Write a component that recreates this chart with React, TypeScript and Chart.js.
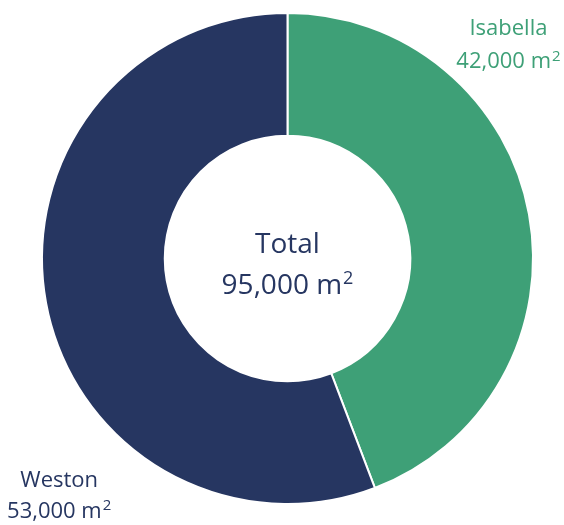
import React, { useEffect, useRef } from "react";
import { Chart, registerables } from "chart.js";

Chart.register(...registerables);

const categories = ["Isabella", "Weston"];
const values = [42000, 53000];
const colors = ["#3EA077", "#263661"];
const totalLabel = "Total";
const unit = "m";

const fmt = (v: number) => v.toLocaleString("en-US");

function drawWithSup(ctx: CanvasRenderingContext2D, text: string, cx: number, baseline: number, size: number, color: string) {
  const font = `${size}px "Open Sans"`;
  const supSize = Math.round(size * 0.66);
  const supFont = `${supSize}px "Open Sans"`;
  ctx.font = font;
  const w1 = ctx.measureText(text).width;
  ctx.font = supFont;
  const w2 = ctx.measureText("2").width;
  const x0 = cx - (w1 + w2 + 1) / 2;
  ctx.fillStyle = color;
  ctx.textAlign = "left";
  ctx.textBaseline = "alphabetic";
  ctx.font = font;
  ctx.fillText(text, x0, baseline);
  ctx.font = supFont;
  ctx.fillText("2", x0 + w1 + 1, baseline - size * 0.33);
}

const labelPlugin = {
  id: "donutLabels",
  afterDraw(chart: any) {
    const ctx = chart.ctx as CanvasRenderingContext2D;
    const meta = chart.getDatasetMeta(0);
    const arc = meta.data[0];
    const cx = arc.x;
    const cy = arc.y;
    const R = arc.outerRadius;
    ctx.save();
    // center
    ctx.fillStyle = colors[1];
    ctx.font = '28px "Open Sans"';
    ctx.textAlign = "center";
    ctx.textBaseline = "alphabetic";
    ctx.fillText(totalLabel, cx, cy - 6);
    const total = values.reduce((a, b) => a + b, 0);
    drawWithSup(ctx, `${fmt(total)} ${unit}`, cx, cy + 35, 28, colors[1]);
    // Isabella (top right)
    ctx.fillStyle = colors[0];
    ctx.font = '22px "Open Sans"';
    ctx.textAlign = "center";
    ctx.fillText(categories[0], cx + R * 0.9, cy - R * 0.91);
    drawWithSup(ctx, `${fmt(values[0])} ${unit}`, cx + R * 0.9, cy - R * 0.775, 22, colors[0]);
    // Weston (bottom left)
    ctx.fillStyle = colors[1];
    ctx.font = '22px "Open Sans"';
    ctx.textAlign = "center";
    ctx.fillText(categories[1], cx - R * 0.93, cy + R * 0.93);
    drawWithSup(ctx, `${fmt(values[1])} ${unit}`, cx - R * 0.93, cy + R * 1.056, 22, colors[1]);
    ctx.restore();
  },
};

export default function App() {
  const ref = useRef<HTMLCanvasElement>(null);
  useEffect(() => {
    document.body.style.margin = "0";
    const chart = new Chart(ref.current!, {
      type: "doughnut",
      data: {
        labels: categories,
        datasets: [
          {
            data: values,
            backgroundColor: colors,
            borderColor: "#ffffff",
            borderWidth: 2,
          },
        ],
      },
      options: {
        animation: false,
        responsive: false,
        cutout: "50%",
        layout: { padding: { left: 41, right: 30, top: 12, bottom: 20 } },
        plugins: {
          legend: { display: false },
          tooltip: { enabled: false },
        },
      },
      plugins: [labelPlugin],
    });
    return () => chart.destroy();
  }, []);
  return (
    <div style={{ position: "absolute", left: 0, top: 0, width: 564, height: 525, background: "#fff" }}>
      <canvas ref={ref} width={564} height={525} style={{ width: 564, height: 525 }} />
    </div>
  );
}
